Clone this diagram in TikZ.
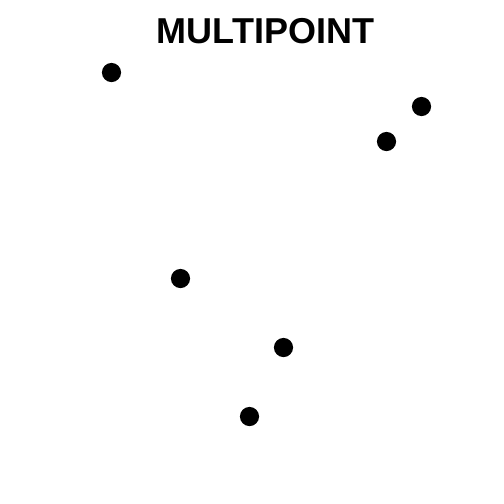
\documentclass[tikz,border=0pt]{standalone}
\usepackage{fontspec}
\setmainfont{Liberation Sans}
\begin{document}
\begin{tikzpicture}[x=1pt,y=-1pt,
  dot/.style={circle,fill=black,inner sep=0pt,minimum size=19.2pt},
  titletext/.style={font=\fontsize{36}{40}\selectfont\bfseries,inner sep=0pt,anchor=base}]
\useasboundingbox[fill=white] (0,0) rectangle (504,504);
\node[titletext] (title) at (265.5,43.5) {MULTIPOINT};
\node[dot] (p1) at (111.5,72.5) {};
\node[dot] (p2) at (421.5,106.5) {};
\node[dot] (p3) at (386.5,141.5) {};
\node[dot] (p4) at (180.5,278.5) {};
\node[dot] (p5) at (283.5,347.5) {};
\node[dot] (p6) at (249.5,416.5) {};
\end{tikzpicture}
\end{document}
